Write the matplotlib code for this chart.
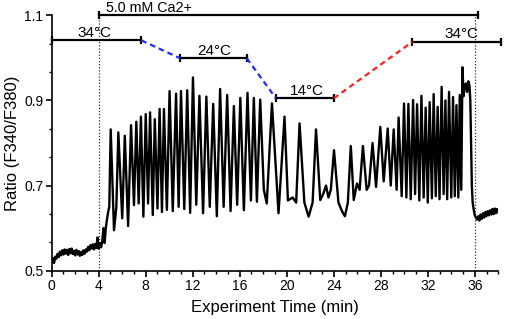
import matplotlib
matplotlib.use("Agg")
import matplotlib.pyplot as plt
from matplotlib.ticker import MultipleLocator, AutoMinorLocator

plt.rcParams['font.family'] = ['Liberation Sans', 'DejaVu Sans']

# ---------------- data ----------------
baseline_t = [0.0, 0.1, 0.2, 0.3, 0.4, 0.5, 0.6, 0.7, 0.8, 0.9, 1.0, 1.1, 1.2, 1.3,
              1.4, 1.5, 1.6, 1.7, 1.8, 1.9, 2.0, 2.1, 2.2, 2.3, 2.4, 2.5, 2.6, 2.7,
              2.8, 2.9, 3.0, 3.1, 3.2, 3.3, 3.4, 3.5, 3.6, 3.7, 3.8, 3.9, 4.0, 4.1,
              4.2, 4.3, 4.4, 4.5, 4.6, 4.7, 4.8, 4.9]
baseline_v = [0.522, 0.530, 0.518, 0.533, 0.528, 0.540, 0.532, 0.545, 0.536, 0.548,
              0.538, 0.550, 0.540, 0.549, 0.537, 0.551, 0.541, 0.552, 0.539, 0.547,
              0.536, 0.549, 0.538, 0.546, 0.535, 0.544, 0.537, 0.548, 0.540, 0.550,
              0.545, 0.556, 0.548, 0.560, 0.552, 0.562, 0.550, 0.563, 0.553, 0.578,
              0.552, 0.565, 0.555, 0.568, 0.600, 0.565, 0.600, 0.620, 0.638, 0.650]

peak_t = [5.02, 5.67, 6.22, 6.75, 7.20, 7.59, 8.00, 8.37, 8.77, 9.18, 9.55, 10.03,
          10.58, 11.00, 11.53, 12.02, 12.57, 13.16, 13.74, 14.33, 14.93, 15.50,
          16.05, 16.66, 17.20, 17.74, 18.74, 19.81, 21.09, 22.49, 23.34, 24.02,
          25.45, 25.98, 26.48, 27.30, 27.96, 28.59, 29.10, 29.52, 29.98, 30.35,
          30.75, 31.09, 31.46, 31.82, 32.16, 32.50, 32.84, 33.18, 33.50, 33.81,
          34.15, 34.44, 34.72, 34.95]
peak_v = [0.832, 0.825, 0.817, 0.842, 0.850, 0.862, 0.868, 0.872, 0.856, 0.880,
          0.880, 0.922, 0.916, 0.922, 0.924, 0.954, 0.911, 0.909, 0.892, 0.927,
          0.913, 0.887, 0.906, 0.918, 0.906, 0.902, 0.893, 0.862, 0.846, 0.832,
          0.700, 0.783, 0.793, 0.705, 0.793, 0.800, 0.838, 0.834, 0.832, 0.860,
          0.893, 0.892, 0.901, 0.891, 0.911, 0.883, 0.896, 0.915, 0.885, 0.932,
          0.900, 0.920, 0.908, 0.889, 0.913, 0.978]

trough_t = [5.30, 5.50, 6.00, 6.50, 7.00, 7.40, 7.80, 8.20, 8.60, 9.00, 9.38, 9.80,
            10.30, 10.80, 11.28, 11.78, 12.30, 12.88, 13.45, 14.05, 14.63, 15.22,
            15.78, 16.35, 16.95, 17.46, 18.05, 18.30, 19.30, 20.10, 20.50, 20.80,
            21.50, 21.86, 22.20, 22.85, 23.10, 23.55, 23.75, 24.40, 24.70, 24.95,
            25.20, 25.70, 26.20, 26.80, 27.00, 27.60, 28.25, 28.85, 29.35, 29.78,
            30.18, 30.55, 30.92, 31.28, 31.65, 32.00, 32.35, 32.68, 33.00, 33.35,
            33.65, 34.00, 34.30, 34.60, 34.85]
trough_v = [0.595, 0.650, 0.623, 0.605, 0.654, 0.658, 0.627, 0.658, 0.631, 0.646,
            0.638, 0.643, 0.640, 0.650, 0.645, 0.636, 0.655, 0.635, 0.650, 0.628,
            0.650, 0.640, 0.655, 0.642, 0.665, 0.662, 0.690, 0.658, 0.635, 0.665,
            0.672, 0.660, 0.660, 0.627, 0.660, 0.666, 0.680, 0.672, 0.690, 0.660,
            0.640, 0.628, 0.660, 0.666, 0.690, 0.690, 0.700, 0.697, 0.710, 0.700,
            0.690, 0.675, 0.672, 0.668, 0.680, 0.665, 0.672, 0.660, 0.670, 0.675,
            0.668, 0.680, 0.668, 0.672, 0.675, 0.672, 0.690]

recovery_t = [35.05, 35.15, 35.25, 35.35, 35.45, 35.55, 35.62, 35.75, 35.82, 35.90,
              36.00, 36.10, 36.20, 36.30, 36.40, 36.50, 36.60, 36.70, 36.80, 36.90,
              37.00, 37.10, 37.20, 37.30, 37.40, 37.50, 37.60, 37.70, 37.80, 37.90,
              38.00]
recovery_v = [0.910, 0.935, 0.940, 0.920, 0.945, 0.935, 0.900, 0.700, 0.660, 0.645,
              0.630, 0.625, 0.620, 0.628, 0.618, 0.632, 0.622, 0.635, 0.625, 0.638,
              0.628, 0.640, 0.630, 0.642, 0.632, 0.645, 0.633, 0.646, 0.635, 0.645,
              0.638]

# annotations
ca_label = "5.0 mM Ca2+"
ca_start, ca_end, ca_level = 4.0, 36.3, 1.1
temp_labels = ["34°C", "24°C", "14°C", "34°C"]
temp_start = [0.0, 10.93, 19.08, 30.7]
temp_end = [7.63, 16.6, 24.0, 38.2]
temp_level = [1.041, 0.999, 0.905, 1.038]
temp_label_x = [3.6, 13.8, 21.7, 34.9]
ramp_colors = ["#1f2bff", "#1f2bff", "#ff1f1f"]
marker_times = [4.0, 36.0]

# ---------------- build trace ----------------
pts = sorted(zip(baseline_t + peak_t + trough_t + recovery_t,
                 baseline_v + peak_v + trough_v + recovery_v))
trace_t = [p[0] for p in pts]
trace_v = [p[1] for p in pts]

# ---------------- figure ----------------
fig = plt.figure(figsize=(5.05, 3.19), dpi=100)
ax = fig.add_axes([0.1024, 0.1514, 0.8843, 0.8006])

ax.plot(trace_t, trace_v, color='black', lw=1.7, solid_joinstyle='round', zorder=3)

ax.set_xlim(0, 38)
ax.set_ylim(0.5, 1.1)
ax.xaxis.set_major_locator(MultipleLocator(4))
ax.xaxis.set_minor_locator(MultipleLocator(1))
ax.set_yticks([0.5, 0.7, 0.9, 1.1])
ax.set_yticklabels(["0.5", "0.7", "0.9", "1.1"])
ax.yaxis.set_minor_locator(AutoMinorLocator(3))
for s in ['top', 'right']:
    ax.spines[s].set_visible(False)
for s in ['left', 'bottom']:
    ax.spines[s].set_linewidth(1.2)
ax.tick_params(which='major', direction='out', length=4.5, width=1.2, labelsize=10, pad=1.5)
ax.tick_params(which='minor', direction='out', length=2.5, width=1.0)
ax.set_xlabel("Experiment Time (min)", fontsize=12, labelpad=5)
ax.set_ylabel("Ratio (F340/F380)", fontsize=12, labelpad=3)

# dotted markers
for mt in marker_times:
    ax.plot([mt, mt], [0.5, 1.1], color='#333333', lw=0.9, ls=(0, (1, 1.5)),
            clip_on=False, zorder=2)

# Ca bar
ax.plot([ca_start, ca_end], [ca_level, ca_level], color='black', lw=1.6, clip_on=False)
ax.plot([ca_start, ca_end], [ca_level, ca_level], ls='none', marker='|', ms=6,
        mew=1.6, color='black', clip_on=False)
ax.text(ca_start + 0.6, ca_level + 0.0075, ca_label, fontsize=10.3, ha='left',
        va='baseline')

# temperature bars
for i in range(len(temp_labels)):
    ax.plot([temp_start[i], temp_end[i]], [temp_level[i]] * 2, color='black', lw=1.6,
            clip_on=False, zorder=4)
    ax.plot([temp_start[i], temp_end[i]], [temp_level[i]] * 2, ls='none', marker='|',
            ms=6, mew=1.6, color='black', clip_on=False, zorder=4)
    ax.text(temp_label_x[i], temp_level[i] + 0.008, temp_labels[i], fontsize=11,
            ha='center', va='baseline')
for i in range(len(ramp_colors)):
    ax.plot([temp_end[i], temp_start[i + 1]], [temp_level[i], temp_level[i + 1]],
            color=ramp_colors[i], lw=1.6, ls=(0, (2.5, 1.8)), zorder=4)

fig.savefig("out.png", dpi=100)
